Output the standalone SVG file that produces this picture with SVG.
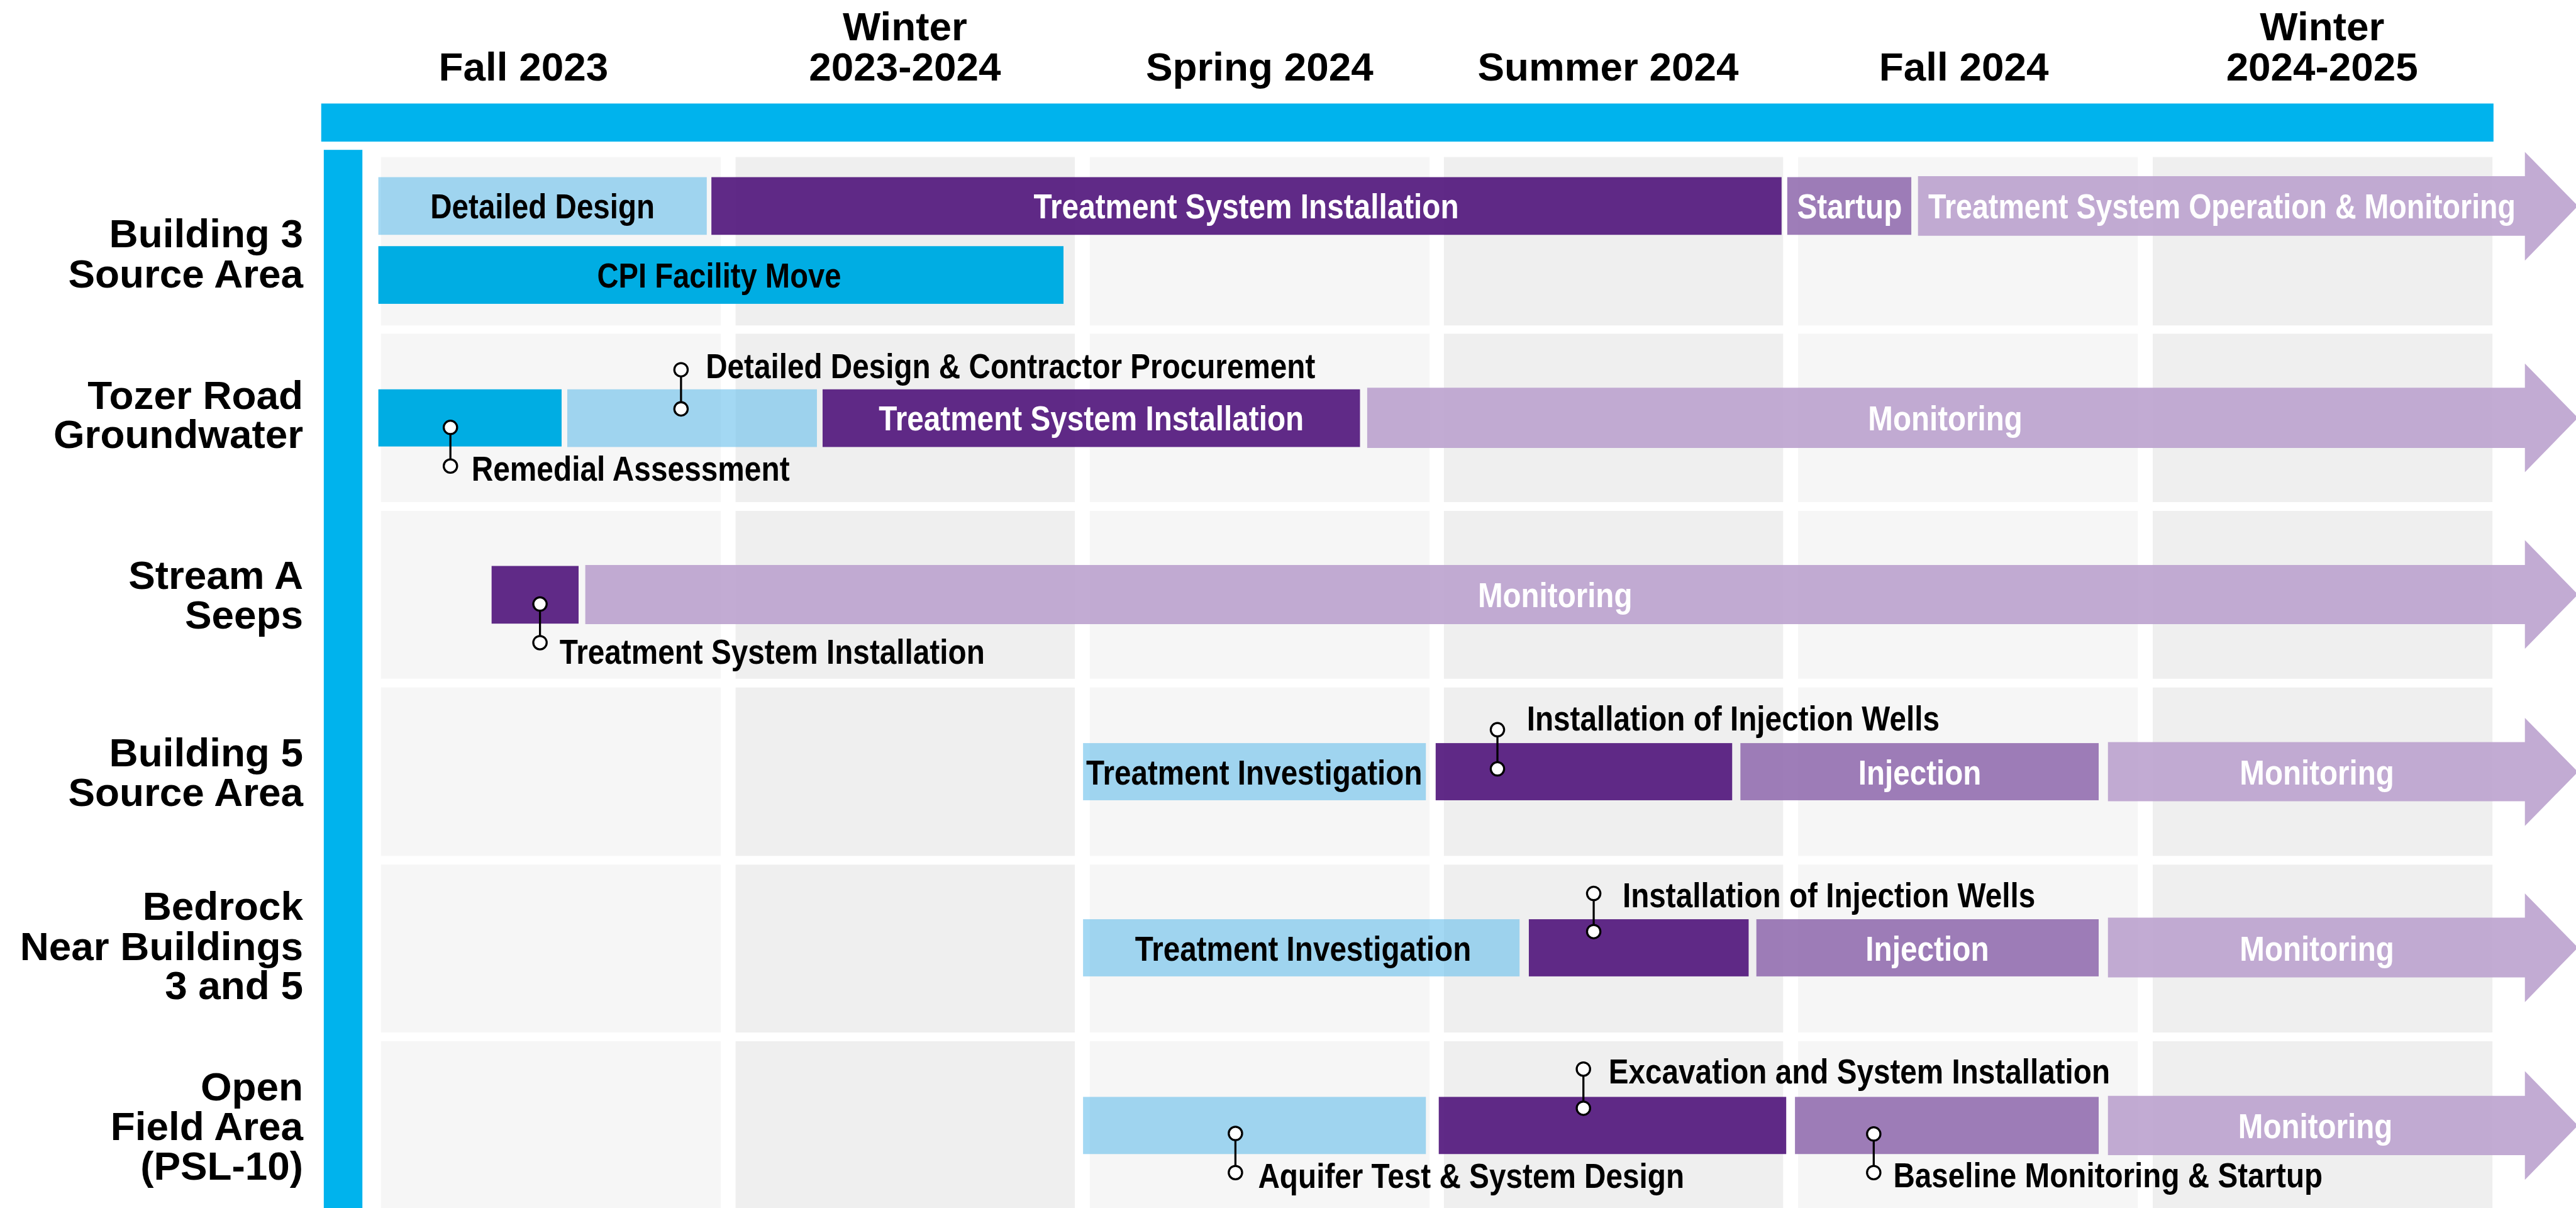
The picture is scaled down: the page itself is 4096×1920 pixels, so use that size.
<svg xmlns="http://www.w3.org/2000/svg" width="4096" height="1920" viewBox="0 0 4096 1920">
  <defs>
    <style>
      text { font-family: "Liberation Sans", Arial, sans-serif; font-weight: bold; }
      .hdr { font-size: 78px; fill: #000; text-anchor: middle; }
      .lbl { font-size: 78px; fill: #000; text-anchor: end; }
      .bt { font-size: 68px; fill: #fff; }
      .bk { font-size: 68px; fill: #000; }
      .cA { fill: #F6F6F6; }
      .cB { fill: #EFEFEF; }
      .axis { fill: #00B3ED; }
      .blue { fill: #00ADE3; }
      .lblue { fill: #66BEEB; fill-opacity: 0.6; }
      .dpur { fill: #53187D; fill-opacity: 0.92; }
      .mpur { fill: #946FB0; fill-opacity: 0.9; }
      .lav { fill: #BBA2CE; fill-opacity: 0.9; }
      .pin line { stroke: #000; stroke-width: 4; }
      .pin circle { fill: #fff; stroke: #000; stroke-width: 4; }
    </style>
  </defs>

  <rect width="4096" height="1920" fill="#fff"/>

  <g transform="scale(0.8185)">
    <!-- season grid: six columns by six rows -->
    <g id="grid">
      <g class="cA">
        <rect x="740" y="305" width="660" height="327"/><rect x="740" y="648" width="660" height="327"/>
        <rect x="740" y="992" width="660" height="326"/><rect x="740" y="1335" width="660" height="327"/>
        <rect x="740" y="1679" width="660" height="326"/><rect x="740" y="2022" width="660" height="330"/>
        <rect x="2117" y="305" width="660" height="327"/><rect x="2117" y="648" width="660" height="327"/>
        <rect x="2117" y="992" width="660" height="326"/><rect x="2117" y="1335" width="660" height="327"/>
        <rect x="2117" y="1679" width="660" height="326"/><rect x="2117" y="2022" width="660" height="330"/>
        <rect x="3493" y="305" width="660" height="327"/><rect x="3493" y="648" width="660" height="327"/>
        <rect x="3493" y="992" width="660" height="326"/><rect x="3493" y="1335" width="660" height="327"/>
        <rect x="3493" y="1679" width="660" height="326"/><rect x="3493" y="2022" width="660" height="330"/>
      </g>
      <g class="cB">
        <rect x="1429" y="305" width="659" height="327"/><rect x="1429" y="648" width="659" height="327"/>
        <rect x="1429" y="992" width="659" height="326"/><rect x="1429" y="1335" width="659" height="327"/>
        <rect x="1429" y="1679" width="659" height="326"/><rect x="1429" y="2022" width="659" height="330"/>
        <rect x="2805" y="305" width="659" height="327"/><rect x="2805" y="648" width="659" height="327"/>
        <rect x="2805" y="992" width="659" height="326"/><rect x="2805" y="1335" width="659" height="327"/>
        <rect x="2805" y="1679" width="659" height="326"/><rect x="2805" y="2022" width="659" height="330"/>
        <rect x="4182" y="305" width="660" height="327"/><rect x="4182" y="648" width="660" height="327"/>
        <rect x="4182" y="992" width="660" height="326"/><rect x="4182" y="1335" width="660" height="327"/>
        <rect x="4182" y="1679" width="660" height="326"/><rect x="4182" y="2022" width="660" height="330"/>
      </g>
    </g>

    <!-- time axis and area axis -->
    <g id="axes">
      <rect class="axis" x="624" y="201" width="4220" height="74"/>
      <rect class="axis" x="629" y="291" width="75" height="2060"/>
    </g>

    <!-- season headers -->
    <g id="seasons">
      <text class="hdr" x="1017" y="156">Fall 2023</text>
      <text class="hdr" x="1758" y="78">Winter<tspan x="1758" y="156">2023-2024</tspan></text>
      <text class="hdr" x="2447" y="156">Spring 2024</text>
      <text class="hdr" x="3124" y="156">Summer 2024</text>
      <text class="hdr" x="3815" y="156">Fall 2024</text>
      <text class="hdr" x="4511" y="78">Winter<tspan x="4511" y="156">2024-2025</tspan></text>
    </g>

    <!-- area labels -->
    <g id="labels">
      <text class="lbl" x="589" y="480">Building 3<tspan x="589" y="558">Source Area</tspan></text>
      <text class="lbl" x="589" y="794">Tozer Road<tspan x="589" y="870">Groundwater</tspan></text>
      <text class="lbl" x="589" y="1143">Stream A<tspan x="589" y="1220">Seeps</tspan></text>
      <text class="lbl" x="589" y="1488">Building 5<tspan x="589" y="1565">Source Area</tspan></text>
      <text class="lbl" x="589" y="1786">Bedrock<tspan x="589" y="1864">Near Buildings</tspan><tspan x="589" y="1940">3 and 5</tspan></text>
      <text class="lbl" x="589" y="2137">Open<tspan x="589" y="2214">Field Area</tspan><tspan x="589" y="2291">(PSL-10)</tspan></text>
    </g>

    <!-- Building 3 Source Area -->
    <g id="b3-design">
      <rect class="lblue" x="735" y="344" width="638" height="112"/>
      <text class="bk" x="836" y="424" textLength="436" lengthAdjust="spacingAndGlyphs">Detailed Design</text>
    </g>
    <g id="b3-install">
      <rect class="dpur" x="1382" y="344" width="2079" height="112"/>
      <text class="bt" x="2008" y="424" textLength="826" lengthAdjust="spacingAndGlyphs">Treatment System Installation</text>
    </g>
    <g id="b3-startup">
      <rect class="mpur" x="3472" y="344" width="241" height="112"/>
      <text class="bt" x="3491" y="424" textLength="204" lengthAdjust="spacingAndGlyphs">Startup</text>
    </g>
    <g id="b3-operation">
      <polygon class="lav" points="3726,342 4905,342 4905,295 5008,400 4905,506 4905,458 3726,458"/>
      <text class="bt" x="3746" y="424" textLength="1141" lengthAdjust="spacingAndGlyphs">Treatment System Operation &amp; Monitoring</text>
    </g>
    <g id="b3-cpi">
      <rect class="blue" x="735" y="478" width="1331" height="112"/>
      <text class="bk" x="1160" y="558" textLength="474" lengthAdjust="spacingAndGlyphs">CPI Facility Move</text>
    </g>

    <!-- Tozer Road Groundwater -->
    <g id="tz-assess">
      <rect class="blue" x="735" y="756" width="356" height="111"/>
      <text class="bk" x="916" y="934" textLength="618" lengthAdjust="spacingAndGlyphs">Remedial Assessment</text>
    </g>
    <g id="tz-design">
      <rect class="lblue" x="1102" y="756" width="485" height="112"/>
      <text class="bk" x="1371" y="734" textLength="1184" lengthAdjust="spacingAndGlyphs">Detailed Design &amp; Contractor Procurement</text>
    </g>
    <g id="tz-install">
      <rect class="dpur" x="1598" y="756" width="1044" height="112"/>
      <text class="bt" x="1707" y="836" textLength="826" lengthAdjust="spacingAndGlyphs">Treatment System Installation</text>
    </g>
    <g id="tz-monitor">
      <polygon class="lav" points="2656,753 4905,753 4905,706 5008,811.5 4905,917 4905,870 2656,870"/>
      <text class="bt" x="3629" y="836" textLength="300" lengthAdjust="spacingAndGlyphs">Monitoring</text>
    </g>

    <!-- Stream A Seeps -->
    <g id="sa-install">
      <rect class="dpur" x="955" y="1099" width="169" height="112"/>
      <text class="bk" x="1087" y="1289" textLength="826" lengthAdjust="spacingAndGlyphs">Treatment System Installation</text>
    </g>
    <g id="sa-monitor">
      <polygon class="lav" points="1137,1097 4905,1097 4905,1049 5008,1154.5 4905,1260 4905,1212 1137,1212"/>
      <text class="bt" x="2871" y="1179" textLength="300" lengthAdjust="spacingAndGlyphs">Monitoring</text>
    </g>

    <!-- Building 5 Source Area -->
    <g id="b5-investigate">
      <rect class="lblue" x="2104" y="1443" width="666" height="111"/>
      <text class="bk" x="2110" y="1523" textLength="653" lengthAdjust="spacingAndGlyphs">Treatment Investigation</text>
    </g>
    <g id="b5-wells">
      <rect class="dpur" x="2789" y="1443" width="576" height="111"/>
      <text class="bk" x="2966" y="1418" textLength="802" lengthAdjust="spacingAndGlyphs">Installation of Injection Wells</text>
    </g>
    <g id="b5-injection">
      <rect class="mpur" x="3381" y="1443" width="696" height="111"/>
      <text class="bt" x="3610" y="1523" textLength="239" lengthAdjust="spacingAndGlyphs">Injection</text>
    </g>
    <g id="b5-monitor">
      <polygon class="lav" points="4095,1441 4905,1441 4905,1394 5008,1499 4905,1604 4905,1556 4095,1556"/>
      <text class="bt" x="4351" y="1523" textLength="300" lengthAdjust="spacingAndGlyphs">Monitoring</text>
    </g>

    <!-- Bedrock Near Buildings 3 and 5 -->
    <g id="bd-investigate">
      <rect class="lblue" x="2104" y="1785" width="848" height="111"/>
      <text class="bk" x="2205" y="1865" textLength="653" lengthAdjust="spacingAndGlyphs">Treatment Investigation</text>
    </g>
    <g id="bd-wells">
      <rect class="dpur" x="2970" y="1785" width="427" height="111"/>
      <text class="bk" x="3152" y="1762" textLength="802" lengthAdjust="spacingAndGlyphs">Installation of Injection Wells</text>
    </g>
    <g id="bd-injection">
      <rect class="mpur" x="3412" y="1785" width="665" height="111"/>
      <text class="bt" x="3624" y="1865" textLength="240" lengthAdjust="spacingAndGlyphs">Injection</text>
    </g>
    <g id="bd-monitor">
      <polygon class="lav" points="4095,1782 4905,1782 4905,1735 5008,1840 4905,1946 4905,1898 4095,1898"/>
      <text class="bt" x="4351" y="1865" textLength="300" lengthAdjust="spacingAndGlyphs">Monitoring</text>
    </g>

    <!-- Open Field Area (PSL-10) -->
    <g id="of-aquifer">
      <rect class="lblue" x="2104" y="2130" width="666" height="111"/>
      <text class="bk" x="2444" y="2307" textLength="828" lengthAdjust="spacingAndGlyphs">Aquifer Test &amp; System Design</text>
    </g>
    <g id="of-excavation">
      <rect class="dpur" x="2795" y="2130" width="675" height="111"/>
      <text class="bk" x="3125" y="2104" textLength="974" lengthAdjust="spacingAndGlyphs">Excavation and System Installation</text>
    </g>
    <g id="of-baseline">
      <rect class="mpur" x="3487" y="2130" width="590" height="111"/>
      <text class="bk" x="3678" y="2305" textLength="834" lengthAdjust="spacingAndGlyphs">Baseline Monitoring &amp; Startup</text>
    </g>
    <g id="of-monitor">
      <polygon class="lav" points="4095,2128 4905,2128 4905,2080 5008,2185.5 4905,2291 4905,2243 4095,2243"/>
      <text class="bt" x="4348" y="2210" textLength="300" lengthAdjust="spacingAndGlyphs">Monitoring</text>
    </g>

    <!-- callout leaders tying labels to their bars -->
    <g id="connectors" class="pin">
      <line x1="875" y1="830" x2="875" y2="905"/><circle cx="875" cy="830" r="13"/><circle cx="875" cy="905" r="13"/>
      <line x1="1323" y1="718" x2="1323" y2="794"/><circle cx="1323" cy="718" r="13"/><circle cx="1323" cy="794" r="13"/>
      <line x1="1049" y1="1173" x2="1049" y2="1248"/><circle cx="1049" cy="1173" r="13"/><circle cx="1049" cy="1248" r="13"/>
      <line x1="2909" y1="1417" x2="2909" y2="1493"/><circle cx="2909" cy="1417" r="13"/><circle cx="2909" cy="1493" r="13"/>
      <line x1="3096" y1="1735" x2="3096" y2="1809"/><circle cx="3096" cy="1735" r="13"/><circle cx="3096" cy="1809" r="13"/>
      <line x1="3076" y1="2076" x2="3076" y2="2152"/><circle cx="3076" cy="2076" r="13"/><circle cx="3076" cy="2152" r="13"/>
      <line x1="2400" y1="2201" x2="2400" y2="2277"/><circle cx="2400" cy="2201" r="13"/><circle cx="2400" cy="2277" r="13"/>
      <line x1="3640" y1="2202" x2="3640" y2="2277"/><circle cx="3640" cy="2202" r="13"/><circle cx="3640" cy="2277" r="13"/>
    </g>
  </g>
</svg>
